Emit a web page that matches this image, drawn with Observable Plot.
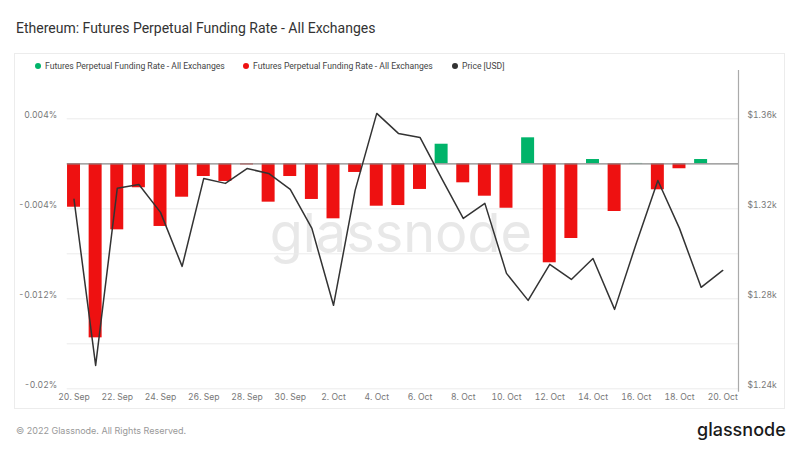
<!DOCTYPE html>
<html><head><meta charset="utf-8">
<script src="https://cdn.jsdelivr.net/npm/d3@7"></script>
<script src="https://cdn.jsdelivr.net/npm/@observablehq/plot@0.6"></script>
<style>
body{margin:0;background:#fff;width:800px;height:450px;position:relative;overflow:hidden;font-family:Inter,sans-serif}
#title{position:absolute;left:16px;top:20px;font:14px Roboto,sans-serif;color:#333;white-space:nowrap}
#card{position:absolute;left:14px;top:53px;width:771px;height:356px;border:1px solid #ececec;box-sizing:border-box}
#chart{position:absolute;left:0;top:53px}
.lg{position:absolute;top:61px;font:8.6px Roboto,sans-serif;color:#444;white-space:nowrap;line-height:11px}
.lg i{display:inline-block;width:6px;height:6px;border-radius:50%;margin-right:4px;vertical-align:0px}
#copy{position:absolute;left:16px;top:425px;font:9px Inter,sans-serif;color:#999;white-space:nowrap}
#logo{position:absolute;left:697px;top:419px;font:500 18px Inter,sans-serif;color:#1a1a1a;letter-spacing:0px}
</style></head>
<body>
<div id="title">Ethereum: Futures Perpetual Funding Rate - All Exchanges</div>
<div id="card"></div>
<div id="legend"></div>
<div id="chart"></div>
<div id="copy">© 2022 Glassnode. All Rights Reserved.</div>
<div id="logo">glassnode</div>
<script>
const dates = ["2022-09-20","2022-09-21","2022-09-22","2022-09-23","2022-09-24","2022-09-25","2022-09-26","2022-09-27","2022-09-28","2022-09-29","2022-09-30","2022-10-01","2022-10-02","2022-10-03","2022-10-04","2022-10-05","2022-10-06","2022-10-07","2022-10-08","2022-10-09","2022-10-10","2022-10-11","2022-10-12","2022-10-13","2022-10-14","2022-10-15","2022-10-16","2022-10-17","2022-10-18","2022-10-19","2022-10-20"];
// funding rate in % (20 Sep – 19 Oct)
const fundingRate = [-0.00386,-0.01547,-0.00587,-0.00213,-0.00557,-0.00297,-0.00113,-0.00157,-0.0001,-0.00341,-0.00113,-0.00317,-0.00489,-0.00077,-0.00377,-0.00371,-0.00228,0.00174,-0.00169,-0.00288,-0.00395,0.00231,-0.0088,-0.00664,0.00038,-0.00424,0.00003,-0.00231,-0.00044,0.00038];
// price in USD (20 Sep – 20 Oct)
const price = [1324.2,1250.4,1329.1,1330.8,1318.4,1294.4,1333.5,1331.3,1337.9,1335.7,1328.6,1311.3,1277.1,1328.2,1362.4,1353.5,1351.7,1333.5,1315.7,1322.4,1291.3,1279.3,1295.3,1288.6,1297.9,1275.3,1304.6,1332.6,1311.3,1285.1,1292.6];
const rateTicks = [0.004,-0.004,-0.012,-0.02];
const gridTicks = [0.004,-0.004,-0.008,-0.012,-0.016,-0.02];
const priceTicks = [1360,1320,1280,1240];
const seriesNames = ["Futures Perpetual Funding Rate - All Exchanges","Futures Perpetual Funding Rate - All Exchanges","Price [USD]"];
const seriesColors = ["#00b46a","#ee1111","#333333"];

const GREEN = seriesColors[0], RED = seriesColors[1];
const DAY = 864e5;
const parse = s => new Date(s + "T00:00:00Z");
// price axis mapped onto the rate axis: $1.36k <-> 0.004%, $1.24k <-> -0.02%
const toRate = p => 0.004 + (p - 1360) * 0.0002;
const fromRate = r => 1360 + (r - 0.004) / 0.0002;

const rateData = fundingRate.map((r, i) => ({date: parse(dates[i]), r}));
const priceData = price.map((p, i) => ({date: parse(dates[i]), y: toRate(p)}));
const xTicks = dates.filter((d, i) => i % 2 === 0).map(parse);
const xMin = new Date(Date.UTC(2022,8,19,16,26)), xMax = new Date(Date.UTC(2022,9,20,17,30));

// legend
const lgLeft = [35, 243, 452];
seriesNames.forEach((n, i) => {
  const el = document.createElement("div");
  el.className = "lg";
  el.style.left = lgLeft[i] + "px";
  el.innerHTML = `<i style="background:${seriesColors[i]}"></i>${n}`;
  document.body.appendChild(el);
});

const tickStyle = {fontSize: 8.6, fill: "#777", fontFamily: "Inter, sans-serif"};
const chart = Plot.plot({
  width: 800, height: 356,
  marginLeft: 66.7, marginRight: 62, marginTop: 20.3, marginBottom: 20.7,
  style: {fontFamily: "Inter, sans-serif", background: "transparent", overflow: "visible"},
  x: {type: "utc", domain: [xMin, xMax]},
  y: {domain: [-0.02, 0.008]},
  marks: [
    Plot.text(["glassnode"], {frameAnchor: "middle", text: d => d, dy: 3, dx: -2, fontSize: 54, fill: "#e8e8e8", fontFamily: "Inter, sans-serif"}),
    Plot.gridY(gridTicks, {stroke: "#ececec", strokeOpacity: 1}),
    Plot.rectY(rateData, {x1: d => new Date(+d.date - 0.3 * DAY), x2: d => new Date(+d.date + 0.3 * DAY), y1: 0, y2: "r", fill: d => d.r >= 0 ? GREEN : RED}),
    Plot.ruleY([0], {stroke: "#888", strokeWidth: 1.3}),
    Plot.line(priceData, {x: "date", y: "y", stroke: "#333", strokeWidth: 1.5}),
    Plot.ruleX([xMax], {y1: -0.0203, y2: 0.0083, stroke: "#aaa", strokeWidth: 1.2}),
    Plot.axisY(rateTicks, {anchor: "left", tickSize: 0, tickPadding: 10, dy: -4, label: null, tickFormat: d => d + "%", ...tickStyle}),
    Plot.axisY(priceTicks.map(toRate), {anchor: "right", tickSize: 0, tickPadding: 9, dy: -4, label: null, tickFormat: r => "$" + (Math.round(fromRate(r)) / 1000).toFixed(2) + "k", ...tickStyle}),
    Plot.axisX(xTicks, {tickSize: 0, tickPadding: 5, label: null, tickFormat: d3.utcFormat("%-d. %b"), ...tickStyle})
  ]
});
document.getElementById("chart").appendChild(chart);
</script>
</body></html>
